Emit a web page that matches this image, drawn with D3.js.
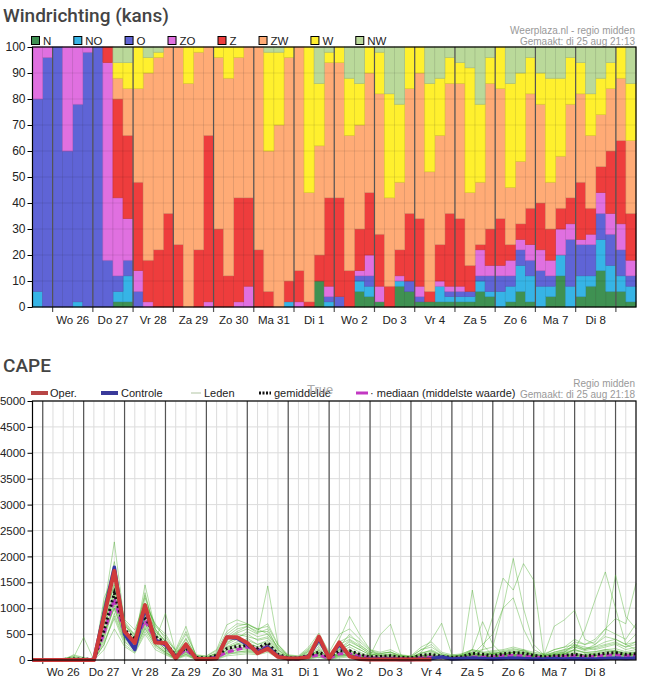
<!DOCTYPE html>
<html>
<head>
<meta charset="utf-8">
<script src="https://cdn.jsdelivr.net/npm/d3@7"></script>
<style>
  body { margin: 0; background: #fff; }
  svg text { font-family: "Liberation Sans", Arial, sans-serif; }
  svg .title { font-family: Roboto, "Noto Sans", sans-serif; font-weight: 500; font-size: 19px; fill: #444; }
</style>
</head>
<body>
<div id="chart"></div>
<script>
// ---- Windrichting (kans): percentage of members per direction, one value per 6 hours
const directions = ["N", "NO", "O", "ZO", "Z", "ZW", "W", "NW"];
const dirColors = ["#3f9152", "#36b4e6", "#5f64d6", "#e070e0", "#ee3d3d", "#ffab76", "#fff02e", "#bad99a"];
const windN  = [0,0,0,0,0,0,0,0,2,2, 0,0,0,0,0,0,0,0,0,0, 0,0,0,0,0,0,0,0,10,0, 0,0,6,4,2,0,8,6,2,2, 2,2,2,2,6,4,0,2,6,2, 0,4,12,0,4,8,14,6,6,2];
const windNO = [6,0,0,0,2,0,0,0,4,10, 0,0,0,0,0,0,0,0,0,0, 0,0,0,0,0,2,0,0,0,2, 0,0,4,4,0,0,2,0,0,0, 6,2,2,2,4,2,6,6,10,10, 8,4,8,8,8,4,12,10,6,6];
const windO  = [74,96,100,60,76,98,100,18,6,6, 6,0,0,0,0,0,0,0,0,0, 0,0,0,0,0,0,0,0,0,2, 4,0,2,4,0,0,0,4,2,0, 0,2,2,2,2,6,6,4,6,6, 6,4,0,18,12,12,10,12,10,4];
const windZO = [20,4,0,40,22,2,0,76,30,16, 8,2,0,0,0,0,0,2,0,0, 2,8,0,0,0,0,2,0,0,4, 0,0,2,8,6,0,2,0,4,0, 2,2,2,0,10,4,4,6,4,6, 8,6,10,6,2,4,8,8,10,6];
const windZ  = [0,0,0,0,0,0,0,6,38,32, 34,16,22,36,24,0,22,64,30,12, 40,34,22,6,0,8,12,2,10,34, 38,14,16,24,20,8,10,26,26,4, 14,28,26,10,2,14,18,6,6,14, 18,12,8,10,22,10,10,24,32,18];
const windZW = [0,0,0,0,0,0,0,0,8,18, 36,72,74,64,76,86,76,34,66,76, 54,58,78,54,70,86,86,42,42,52, 52,52,40,46,54,34,26,48,56,46, 42,50,52,28,24,56,50,22,24,44, 38,18,20,36,34,28,20,24,24,28];
const windW  = [0,0,0,0,0,0,0,0,6,10, 16,6,2,0,0,14,2,0,4,12, 4,0,0,38,28,4,0,56,24,4, 6,22,16,10,16,40,30,16,10,34, 22,10,8,48,30,10,16,40,34,14, 12,40,30,18,12,16,14,10,12,22];
const windNW = [0,0,0,0,0,0,0,0,6,6, 0,4,2,0,0,0,0,0,0,0, 0,0,0,2,2,0,0,0,14,2, 0,12,14,0,2,18,22,0,0,14, 12,4,6,8,22,4,0,14,10,4, 10,12,12,4,6,18,12,6,0,14];
const windSeries = [windN, windNO, windO, windZO, windZ, windZW, windW, windNW];

const dayLabels = ["Wo 26", "Do 27", "Vr 28", "Za 29", "Zo 30", "Ma 31", "Di 1",
                   "Wo 2", "Do 3", "Vr 4", "Za 5", "Zo 6", "Ma 7", "Di 8"];
const windTicks = [0, 10, 20, 30, 40, 50, 60, 70, 80, 90, 100];
const capeTicks = [0, 500, 1000, 1500, 2000, 2500, 3000, 3500, 4000, 4500, 5000];

// ---- CAPE, one value per 6 hours starting di 25 aug 18:00
const capeOper = [0,0,0,0,0,0,0,850,1720,550, 330,1060,340,330,30,300,20,20,30,440,
  440,330,130,220,60,30,30,60,450,30, 340,70,20,10,10,10,10,10,10,10];
const capeControle = [0,0,0,0,0,0,0,900,1790,500, 200,1000,380,300,40,280,30,20,40,440,
  420,300,150,250,70,30,30,70,400,40, 300,80,30,20,20,20,10,10,20,30,
  60,20,30,40,30,20,30,40,30,20, 20,30,20,30,20,20,30,40,30,40];
const capeGemiddelde = [0,0,0,10,20,20,10,580,1290,580, 420,840,450,330,90,230,50,40,90,220,
  260,280,230,330,110,40,40,90,150,60, 180,180,110,60,70,80,50,40,90,110,
  70,50,60,130,110,80,120,140,130,90, 60,80,90,110,80,100,130,140,110,120];
const capeMediaan = [0,0,0,0,0,0,0,520,1180,520, 360,760,400,280,50,200,30,20,60,150,
  200,250,200,260,80,20,20,60,100,30, 120,120,80,40,40,40,30,20,50,60,
  40,30,40,60,60,60,80,90,80,60, 40,60,70,80,60,70,90,100,80,90];
const capeLeden = [
  [0,0,0,0,0,0,0,1000,2280,700, 400,1300,500,300,80,300,40,20,60,300, 400,350,250,300,100,20,20,80,200,40, 150,200,100,60,40,50,30,20,60,80, 40,30,40,120,80,60,80,100,80,60, 40,60,80,100,60,90,120,140,80,100],
  [0,0,0,0,60,20,0,700,1500,560, 300,900,420,250,40,200,30,30,80,250, 300,420,300,350,120,40,30,100,150,30, 400,840,490,200,80,60,40,30,90,60, 50,40,60,90,70,120,160,200,180,90, 60,100,120,150,100,140,180,160,120,150],
  [0,0,0,20,80,40,0,450,1100,450, 350,1450,600,350,60,250,20,20,40,150, 200,250,200,300,80,30,20,60,100,50, 200,300,200,100,120,160,60,40,150,390, 710,100,80,200,740,300,100,80,60,50, 40,80,100,120,90,80,100,120,90,110],
  [0,0,0,0,0,0,0,800,1800,620, 250,700,380,900,150,280,40,40,100,420, 520,600,500,1430,300,60,40,120,260,60, 100,120,80,60,60,40,40,60,80,120, 60,40,120,200,150,100,100,90,120,80, 60,90,120,200,150,160,200,180,130,140],
  [0,0,0,0,0,0,0,600,1300,500, 280,800,420,200,40,180,20,20,30,200, 300,280,220,250,90,20,20,50,120,30, 120,150,100,60,40,60,40,30,60,80, 40,40,60,80,200,840,1580,1350,1860,1540, 70,100,80,60,120,100,80,100,90,110],
  [0,0,0,0,0,0,0,900,1400,680, 420,1000,520,280,60,220,50,30,70,320, 450,500,380,420,150,40,30,90,180,50, 100,80,60,40,40,50,40,30,80,60, 50,40,60,100,300,500,1000,1960,1000,300, 100,120,150,200,140,120,160,180,140,160],
  [0,0,0,0,0,0,0,300,900,380, 200,600,300,150,30,120,20,10,20,100, 150,180,150,200,60,10,10,30,80,20, 80,100,60,40,30,30,20,20,40,50, 30,30,40,60,50,60,80,100,120,80, 50,80,120,200,580,1160,1700,1000,300,200],
  [0,0,0,0,0,0,0,1100,1600,780, 580,1100,700,400,200,650,60,40,150,500, 650,700,600,500,250,80,60,200,400,100, 250,500,300,150,100,120,80,60,200,300, 120,80,100,150,100,120,100,150,200,100, 100,650,775,960,400,300,500,1640,840,600],
  [0,0,0,0,40,440,0,500,1000,420, 260,750,350,220,40,150,20,20,50,180, 250,300,200,280,80,20,30,70,150,30, 150,250,150,80,490,690,100,40,80,120, 60,40,60,100,80,60,120,150,100,80, 60,100,150,300,250,200,250,300,200,250],
  [0,0,0,0,0,0,0,350,800,300, 150,550,250,120,20,100,10,10,20,130, 130,150,120,180,50,10,10,30,60,10, 60,80,50,30,20,30,20,20,30,40, 30,30,50,1350,300,80,60,60,50,40, 30,50,60,80,50,60,70,90,60,80],
  [0,0,0,30,60,0,0,750,1250,600, 380,950,480,320,100,400,80,60,120,380, 500,450,400,450,180,50,40,150,300,80, 200,350,250,120,80,100,60,50,120,200, 100,60,80,150,200,250,1000,1200,600,200, 100,200,250,400,300,350,600,500,400,700],
  [0,0,0,0,0,0,0,950,1700,720, 450,850,550,380,120,350,60,40,100,420, 550,650,520,600,200,60,50,180,350,90, 300,400,280,150,120,150,80,60,140,180, 90,60,80,120,100,150,120,140,160,100, 80,150,200,350,300,400,600,800,700,1480],
  [0,0,0,0,0,0,0,500,1150,520, 330,1200,650,450,160,500,100,80,200,680, 775,700,580,700,300,100,80,250,520,150, 500,600,400,200,150,200,100,80,250,350, 150,100,120,200,150,180,200,250,200,150, 120,200,250,300,200,250,300,350,250,300],
  [0,0,0,0,0,0,0,650,1200,480, 220,650,330,180,20,160,20,20,40,200, 250,220,180,220,70,20,20,60,120,30, 100,120,80,50,40,40,30,20,50,60, 40,30,40,60,50,60,80,90,70,60, 40,60,80,100,70,80,100,120,90,100],
  [0,0,0,0,0,0,0,200,600,260, 130,500,200,100,10,80,10,0,10,80, 100,120,100,150,40,0,10,20,50,10, 40,60,40,20,20,20,10,10,20,30, 20,20,30,40,30,40,50,60,50,40, 20,40,50,60,40,50,60,80,50,60],
  [0,0,0,0,100,50,0,850,1450,650, 500,1250,580,300,90,320,50,40,90,350, 420,550,450,500,200,50,40,120,220,70, 180,300,200,100,80,90,60,40,100,150, 80,60,80,120,100,120,140,160,140,100, 80,120,160,250,200,300,450,400,300,500],
  [0,0,0,0,0,0,0,550,1000,400, 300,800,450,260,70,260,40,30,80,260, 350,380,300,380,130,30,30,100,180,50, 120,180,120,80,60,80,50,40,80,100, 60,50,70,100,80,100,120,140,120,90, 60,100,130,180,140,160,200,220,160,200],
  [0,0,0,0,0,0,0,1200,1650,540, 350,900,400,200,50,200,30,20,60,230, 320,300,260,320,110,30,20,70,140,40, 140,180,100,60,50,60,40,30,70,90, 50,40,60,90,70,80,100,120,100,70, 50,80,100,130,90,110,150,170,110,130],
  [0,0,0,0,0,0,0,400,1050,460, 240,700,300,150,30,140,20,20,40,150, 200,200,160,230,70,20,20,50,100,30, 90,130,80,50,40,50,30,30,50,70, 40,30,50,70,60,70,90,110,90,70, 40,70,90,110,80,100,130,150,100,120],
  [0,0,0,0,0,0,0,700,1350,580, 400,1000,600,350,130,420,70,50,130,450, 600,650,550,550,230,70,50,170,320,80, 220,380,250,120,90,110,70,50,130,170, 90,60,90,130,110,130,160,180,150,110, 80,130,180,280,220,260,350,400,300,350],
  [0,0,0,0,0,0,0,300,850,350, 180,620,280,140,20,110,10,10,30,130, 160,170,130,190,60,10,10,40,90,20, 70,90,60,40,30,40,20,20,40,60, 30,30,40,60,50,60,70,90,80,60, 30,60,70,90,60,80,100,120,80,100],
  [0,0,0,0,0,0,0,1050,1900,750, 480,1100,680,500,180,550,90,70,180,550, 700,680,600,650,280,90,70,220,450,120, 350,450,350,180,130,150,90,70,200,250, 120,80,100,180,130,160,180,220,180,130, 100,150,200,250,180,220,280,320,250,350]
];

(function() {

  window.addEventListener("load", init);

  function init() {
    const svg = d3.select("#chart").append("svg")
        .attr("width", 648)
        .attr("height", 682)
        .attr("viewBox", [0, 0, 648, 682]);

    drawWind(svg);
    drawCape(svg);
  }

  function drawWind(svg) {
    const top = 47, bottom = 307, left = 32.5, right = 636;

    svg.append("text").attr("class", "title")
        .attr("x", 3).attr("y", 22)
        .text("Windrichting (kans)");

    svg.append("text")
        .attr("x", 635).attr("y", 34)
        .attr("text-anchor", "end").attr("font-size", 10).attr("fill", "#999")
        .text("Weerplaza.nl - regio midden");
    svg.append("text")
        .attr("x", 635).attr("y", 44.5)
        .attr("text-anchor", "end").attr("font-size", 10).attr("fill", "#999")
        .text("Gemaakt: di 25 aug 21:13");

    // legend, each item is pushed along by the width of its label
    let lx = 31;
    directions.forEach((d, j) => {
      svg.append("rect")
          .attr("x", lx + 0.5).attr("y", 36.5)
          .attr("width", 8).attr("height", 8)
          .attr("fill", dirColors[j])
          .attr("stroke", "#000");
      const t = svg.append("text")
          .attr("x", lx + 12).attr("y", 45)
          .attr("font-size", 11.5).attr("fill", "#222")
          .text(d);
      lx += 34 + t.node().getComputedTextLength();
    });

    const rows = windN.map((_, i) => {
      const row = {i: i};
      directions.forEach((d, j) => row[d] = windSeries[j][i]);
      return row;
    });
    const series = d3.stack().keys(directions)(rows);

    const x = d3.scaleBand().domain(d3.range(rows.length)).range([left, right]);
    const y = d3.scaleLinear().domain([0, 100]).range([bottom, top]);

    svg.append("g")
      .selectAll("g")
      .data(series)
      .join("g")
        .attr("fill", (s, j) => dirColors[j])
        .attr("stroke", (s, j) => d3.color(dirColors[j]).darker(0.45))
        .attr("stroke-width", 0.6)
      .selectAll("rect")
      .data(s => s.filter(d => d[1] > d[0]))
      .join("rect")
        .attr("x", d => x(d.data.i))
        .attr("y", d => y(d[1]))
        .attr("width", x.bandwidth())
        .attr("height", d => y(d[0]) - y(d[1]));

    // faint horizontal grid over the bars
    svg.append("g")
      .selectAll("line")
      .data(windTicks.slice(1, -1))
      .join("line")
        .attr("x1", left).attr("x2", right)
        .attr("y1", d => y(d)).attr("y2", d => y(d))
        .attr("stroke", "#000").attr("stroke-opacity", 0.09);

    // day separators (midnight falls after every 4th bar, starting at bar 2)
    const dayEdges = d3.range(2, rows.length, 4);
    svg.append("g")
      .selectAll("line")
      .data(dayEdges)
      .join("line")
        .attr("x1", d => x(d)).attr("x2", d => x(d))
        .attr("y1", top).attr("y2", bottom + 5)
        .attr("stroke", "#555").attr("stroke-width", 1.2);

    svg.append("g")
      .selectAll("text")
      .data(dayLabels)
      .join("text")
        .attr("x", (d, j) => x(4 + 4 * j))
        .attr("y", bottom + 17)
        .attr("text-anchor", "middle")
        .attr("font-size", 11.5)
        .attr("fill", "#222")
        .text(d => d);

    svg.append("g")
        .attr("transform", `translate(${left},0)`)
        .call(d3.axisLeft(y).tickValues(windTicks).tickSize(5).tickPadding(2))
        .call(g => g.select(".domain").remove())
        .call(g => g.selectAll(".tick text").attr("font-size", 12).attr("fill", "#222")
            .style("font-family", '"Liberation Sans", Arial, sans-serif'));

    svg.append("rect")
        .attr("x", left).attr("y", top)
        .attr("width", right - left).attr("height", bottom - top)
        .attr("fill", "none").attr("stroke", "#000").attr("stroke-width", 1.2);
  }

  function drawCape(svg) {
    const top = 401, bottom = 660, left = 32.5, right = 636;
    const hours = (capeControle.length - 1) * 6;

    svg.append("text").attr("class", "title")
        .attr("x", 3).attr("y", 372)
        .text("CAPE");

    svg.append("text")
        .attr("x", 635).attr("y", 387)
        .attr("text-anchor", "end").attr("font-size", 10).attr("fill", "#999")
        .text("Regio midden");
    svg.append("text")
        .attr("x", 635).attr("y", 398)
        .attr("text-anchor", "end").attr("font-size", 10).attr("fill", "#999")
        .text("Gemaakt: di 25 aug 21:18");

    const x = d3.scaleLinear().domain([0, hours]).range([left, right]);
    const y = d3.scaleLinear().domain([0, 5000]).range([bottom, top]);

    // light grid: every 500 and every 6 hours
    svg.append("g")
      .selectAll("line")
      .data(capeTicks.slice(1))
      .join("line")
        .attr("x1", left).attr("x2", right)
        .attr("y1", d => y(d)).attr("y2", d => y(d))
        .attr("stroke", "#dcdcdc");
    svg.append("g")
      .selectAll("line")
      .data(d3.range(6, hours, 6))
      .join("line")
        .attr("x1", d => x(d)).attr("x2", d => x(d))
        .attr("y1", top).attr("y2", bottom)
        .attr("stroke", "#dcdcdc");

    const dayLines = d3.range(6, hours, 24);
    svg.append("g")
      .selectAll("line")
      .data(dayLines)
      .join("line")
        .attr("x1", d => x(d)).attr("x2", d => x(d))
        .attr("y1", top).attr("y2", bottom + 4)
        .attr("stroke", "#555").attr("stroke-width", 1.2);

    const line = d3.line()
        .x((v, k) => x(k * 6))
        .y(v => y(v));

    svg.append("g")
        .attr("fill", "none")
        .attr("stroke", "#4aad2c")
        .attr("stroke-opacity", 0.42)
        .attr("stroke-width", 1)
      .selectAll("path")
      .data(capeLeden)
      .join("path")
        .attr("d", line);

    svg.append("path")
        .attr("d", line(capeMediaan))
        .attr("fill", "none")
        .attr("stroke", "#c238c2")
        .attr("stroke-width", 3)
        .attr("stroke-dasharray", "6,3");

    svg.append("path")
        .attr("d", line(capeGemiddelde))
        .attr("fill", "none")
        .attr("stroke", "#111")
        .attr("stroke-width", 3)
        .attr("stroke-dasharray", "2,2.5");

    svg.append("path")
        .attr("d", line(capeControle))
        .attr("fill", "none")
        .attr("stroke", "#3636a6")
        .attr("stroke-width", 3.5)
        .attr("stroke-linejoin", "round");

    svg.append("path")
        .attr("d", line(capeOper))
        .attr("fill", "none")
        .attr("stroke", "#cf3b3b")
        .attr("stroke-width", 4)
        .attr("stroke-linejoin", "round");

    svg.append("g")
      .selectAll("text")
      .data(dayLabels)
      .join("text")
        .attr("x", (d, j) => x(18 + 24 * j))
        .attr("y", bottom + 16)
        .attr("text-anchor", "middle")
        .attr("font-size", 11.5)
        .attr("fill", "#222")
        .text(d => d);

    svg.append("g")
        .attr("transform", `translate(${left},0)`)
        .call(d3.axisLeft(y).tickValues(capeTicks).tickSize(5).tickPadding(2).tickFormat(d3.format("d")))
        .call(g => g.select(".domain").remove())
        .call(g => g.selectAll(".tick text").attr("font-size", 11.5).attr("fill", "#222")
            .style("font-family", '"Liberation Sans", Arial, sans-serif'));

    svg.append("rect")
        .attr("x", left).attr("y", top)
        .attr("width", right - left).attr("height", bottom - top)
        .attr("fill", "none").attr("stroke", "#000").attr("stroke-width", 1.2);

    // legend
    const ly = 393;
    const legend = svg.append("g").attr("font-size", 11).attr("fill", "#222");
    legend.append("line").attr("x1", 31).attr("x2", 48).attr("y1", ly).attr("y2", ly)
        .attr("stroke", "#b84646").attr("stroke-width", 4);
    legend.append("text").attr("x", 50).attr("y", ly + 4).text("Oper.");
    legend.append("line").attr("x1", 101).attr("x2", 118).attr("y1", ly).attr("y2", ly)
        .attr("stroke", "#3a3a9a").attr("stroke-width", 4);
    legend.append("text").attr("x", 121).attr("y", ly + 4).text("Controle");
    legend.append("line").attr("x1", 191).attr("x2", 201).attr("y1", ly).attr("y2", ly)
        .attr("stroke", "#cbd9c2").attr("stroke-width", 1.5);
    legend.append("text").attr("x", 204).attr("y", ly + 4).text("Leden");
    legend.append("line").attr("x1", 259).attr("x2", 271).attr("y1", ly).attr("y2", ly)
        .attr("stroke", "#111").attr("stroke-width", 3).attr("stroke-dasharray", "2,1.5");
    legend.append("text").attr("x", 274).attr("y", ly + 4).text("gemiddelde");
    legend.append("text").attr("x", 307).attr("y", ly + 1)
        .attr("font-size", 13).attr("fill", "#aaa").text("True");
    legend.append("line").attr("x1", 356).attr("x2", 368).attr("y1", ly).attr("y2", ly)
        .attr("stroke", "#c238c2").attr("stroke-width", 3);
    legend.append("text").attr("x", 370).attr("y", ly + 4).text("· mediaan (middelste waarde)");
  }
})();
</script>
</body>
</html>
